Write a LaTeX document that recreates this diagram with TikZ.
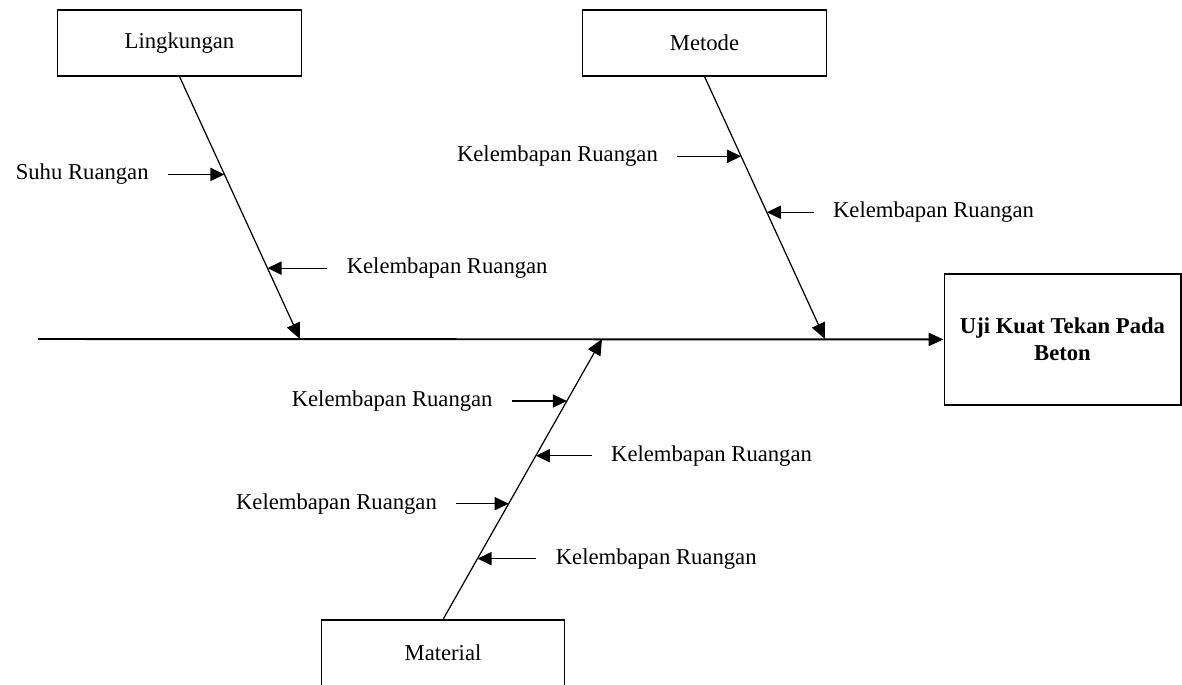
\documentclass[tikz,border=0pt]{standalone}
\usepackage{fontspec}
\setmainfont{Liberation Serif}
\usetikzlibrary{positioning,arrows.meta,calc}

\begin{document}
\begin{tikzpicture}[
  x=0.02cm, y=-0.02cm,
  every node/.style={font=\fontsize{12.9}{15.3}\selectfont},
  catbox/.style={draw, line width=0.6pt, minimum width=4.87cm, minimum height=1.32cm},
  effectbox/.style={draw, line width=0.6pt, minimum width=4.74cm, minimum height=2.62cm,
                    align=center, font=\fontsize{12.9}{15.3}\selectfont\bfseries},
  cause/.style={inner xsep=4pt, outer xsep=7pt},
  spine/.style={line width=1.1pt, -{Triangle[length=8.5pt,width=7.5pt]}},
  bone/.style={line width=0.7pt, -{Triangle[length=9pt,width=8pt]}},
  twig/.style={line width=0.7pt, -{Triangle[length=8pt,width=7.5pt]}}
]
\useasboundingbox (0,0) rectangle (1182,684);
\clip (0,0) rectangle (1182,684);

% Categories and effect
\node[catbox] (lingk) at (179.5,43) {Lingkungan};
\node[catbox] (metode) at (704.5,43) {Metode};
\node[catbox] (matl) at (443,653) {Material};
\node[effectbox] (effect) at (1062.5,339.5) {Uji Kuat Tekan Pada\\Beton};

% Spine
\coordinate (tail) at (38,339);
\coordinate (ltip) at (300,339);
\coordinate (mtip) at (825,339);
\coordinate (ttip) at (602,339);
\draw[spine] (tail) -- (effect);

% Bones
\draw[bone] (lingk.south) -- (ltip);
\draw[bone] (metode.south) -- (mtip);
\draw[bone] (matl.north) -- (ttip);

% Points on the bones
\coordinate (l1) at ($(lingk.south)!0.373!(ltip)$);
\coordinate (l2) at ($(lingk.south)!0.730!(ltip)$);
\coordinate (m1) at ($(metode.south)!0.304!(mtip)$);
\coordinate (m2) at ($(metode.south)!0.517!(mtip)$);
\coordinate (t1) at ($(matl.north)!0.779!(ttip)$);
\coordinate (t2) at ($(matl.north)!0.584!(ttip)$);
\coordinate (t3) at ($(matl.north)!0.413!(ttip)$);
\coordinate (t4) at ($(matl.north)!0.217!(ttip)$);

% Causes
\node[cause, left=1.13cm of l1] (suhu) {Suhu Ruangan};
\node[cause, right=1.2cm of l2] (lk2) {Kelembapan Ruangan};
\node[cause, left=1.28cm of m1] (mk1) {Kelembapan Ruangan};
\node[cause, right=0.94cm of m2] (mk2) {Kelembapan Ruangan};
\node[cause, left=1.1cm of t1] (tk1) {Kelembapan Ruangan};
\node[cause, right=1.12cm of t2] (tk2) {Kelembapan Ruangan};
\node[cause, left=1.05cm of t3] (tk3) {Kelembapan Ruangan};
\node[cause, right=1.18cm of t4] (tk4) {Kelembapan Ruangan};

\draw[twig] (suhu) -- (l1);
\draw[twig] (lk2) -- (l2);
\draw[twig] (mk1) -- (m1);
\draw[twig] (mk2) -- (m2);
\draw[twig] (tk1) -- (t1);
\draw[twig] (tk2) -- (t2);
\draw[twig] (tk3) -- (t3);
\draw[twig] (tk4) -- (t4);

\end{tikzpicture}
\end{document}
